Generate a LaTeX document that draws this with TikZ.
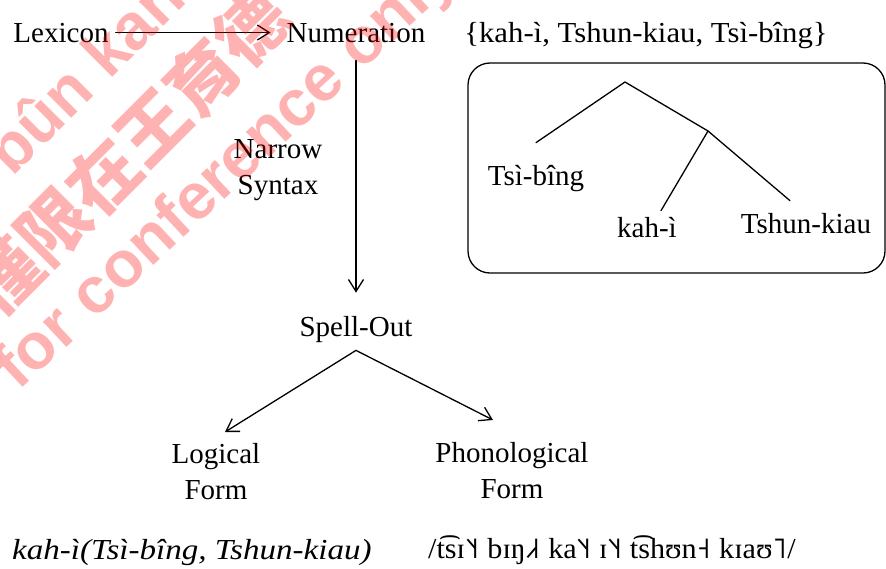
\documentclass[tikz,border=0pt]{standalone}
\usepackage{fontspec}
\usepackage{graphicx}
\setmainfont{Liberation Serif}
\newfontfamily\wmsans{Liberation Sans}
\newfontfamily\cjkwm{Noto Sans CJK TC}
\newfontfamily\tonefont{DejaVu Sans}
\usetikzlibrary{arrows.meta}
\newcommand\tn[1]{{\tonefont #1}}
\begin{document}
\begin{tikzpicture}[x=1pt,y=-1pt,
  lbl/.style={inner sep=0pt, font=\fontsize{29}{36}\selectfont, anchor=base},
  ml/.style={inner sep=0pt, font=\fontsize{29}{36}\selectfont, align=center, anchor=north},
  ln/.style={line width=1.3pt, line cap=round, line join=round},
  arr/.style={ln, -{Straight Barb[length=12pt,width=15pt,line width=1.3pt]}},
  wm/.style={text=red, text opacity=0.3, inner sep=0pt},
]
\useasboundingbox (0,0) rectangle (886,568);
\fill[white] (0,0) rectangle (886,568);

% main flow
\node[lbl] (lex) at (61,42) {Lexicon};
\node[lbl] (num) at (356,42) {Numeration};
\node[lbl] (set) at (646,42) {\scalebox{1.06}[1]{\{kah-ì, Tshun-kiau, Tsì-bîng\}}};
\node[ml] (ns) at (278,139) {Narrow\\Syntax};
\node[lbl] (spell) at (356,336) {Spell-Out};
\node[ml] (lf) at (216,443) {Logical\\Form};
\node[ml] (pf) at (512,442) {Phonological\\Form};
\node[lbl, anchor=base west] (lfx) at (12,559) {\scalebox{1.14}[1]{\itshape kah-ì(Tsì-bîng, Tshun-kiau)}};
\node[lbl, anchor=base west] (pfx) at (428,558) {\scalebox{1.04}[1]{/t͡sɪ\tn{˥˧} bɪŋ\tn{˩˧} ka\tn{˥˧} ɪ\tn{˥˧} t͡shʊn\tn{˧} kɪaʊ\tn{˥}/}};

\draw[arr, shorten <=7pt, shorten >=16pt] (lex.east) -- (num.west);
\draw[arr, shorten <=18pt, shorten >=23pt] (num.south) -- (spell.north);
\coordinate (apex) at ([yshift=-8pt]spell.south);
\coordinate (lftip) at ([xshift=9pt, yshift=11pt]lf.north);
\coordinate (pftip) at ([xshift=-19pt, yshift=22pt]pf.north);
\draw[arr] (apex) -- (lftip);
\draw[arr] (apex) -- (pftip);

% tree box
\node[ln, draw, rounded corners=22pt, minimum width=417pt, minimum height=210pt, inner sep=0pt] (box) at (676.5,168) {};
\node[lbl] (tb) at (536,185) {Tsì-bîng};
\node[lbl] (ki) at (647,237) {kah-ì};
\node[lbl] (tk) at (806,233) {Tshun-kiau};
\coordinate (root) at (625,82);
\coordinate (mid) at (708,131);
\coordinate (tbe) at ([yshift=22pt]tb.north);
\coordinate (kie) at ([xshift=14pt, yshift=6pt]ki.north);
\coordinate (tke) at ([xshift=-16pt, yshift=12pt]tk.north);
\draw[ln] (tbe) -- (root) -- (mid) -- (tke);
\draw[ln] (mid) -- (kie);

% watermark
\begin{scope}
\clip (0,0) rectangle (886,568);
\node[wm, font=\wmsans\bfseries\fontsize{65}{65}\selectfont, rotate=45, anchor=base west] (wm1) at (12,178) {bûn kan};
\node[wm, font=\cjkwm\bfseries\fontsize{70}{70}\selectfont, rotate=45] (wm2) at (128,152) {僅限在王育德};
\node[wm, font=\wmsans\bfseries\fontsize{65}{65}\selectfont, rotate=43, anchor=base west] (wm3) at (18,392) {for conference only};
\end{scope}
\end{tikzpicture}
\end{document}
